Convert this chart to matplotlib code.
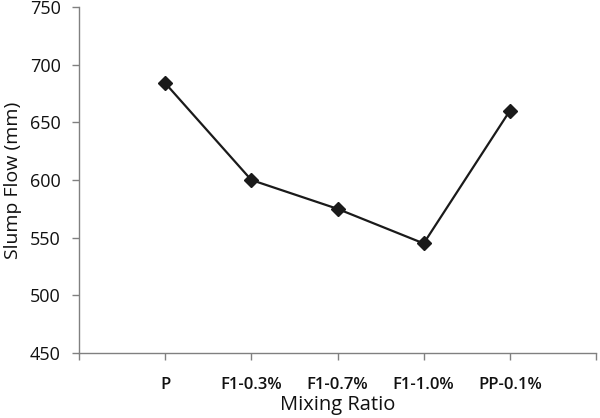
import matplotlib
matplotlib.use("Agg")
import matplotlib.pyplot as plt

categories = ["P", "F1-0.3%", "F1-0.7%", "F1-1.0%", "PP-0.1%"]
slump_flow = [684, 600, 575, 545, 660]
y_ticks = [450, 500, 550, 600, 650, 700, 750]

plt.rcParams['font.family'] = ['Open Sans', 'DejaVu Sans']

fig = plt.figure(figsize=(6.0, 4.18), dpi=100)
ax = fig.add_axes([79/600, 1-353/418, (596-79)/600, (353-7)/418])

x = list(range(1, len(categories) + 1))
ax.plot(x, slump_flow, color='#1a1a1a', lw=1.6, marker='D', markersize=7.5,
        markerfacecolor='#1a1a1a', markeredgecolor='#1a1a1a')

ax.set_xlim(0, len(categories) + 1)
ax.set_ylim(450, 750)
ax.set_yticks(y_ticks)
ax.set_xticks(list(range(0, len(categories) + 2)))
ax.set_xticklabels([""] + categories + [""])

for s in ['top', 'right']:
    ax.spines[s].set_visible(False)
for s in ['left', 'bottom']:
    ax.spines[s].set_color('#808080')
    ax.spines[s].set_linewidth(1.0)

ax.tick_params(axis='both', direction='out', length=5, width=1.0, color='#808080',
               labelcolor='#111111')
ax.tick_params(axis='x', pad=12, labelsize=12)
ax.tick_params(axis='y', pad=8, labelsize=13)
for lab in ax.get_xticklabels():
    lab.set_fontweight('semibold')

ax.set_ylabel("Slump Flow (mm)", fontsize=14, color='#111111', labelpad=6)
ax.set_xlabel("Mixing Ratio", fontsize=14.5, color='#111111', labelpad=2)

fig.savefig("out.png", dpi=100)
